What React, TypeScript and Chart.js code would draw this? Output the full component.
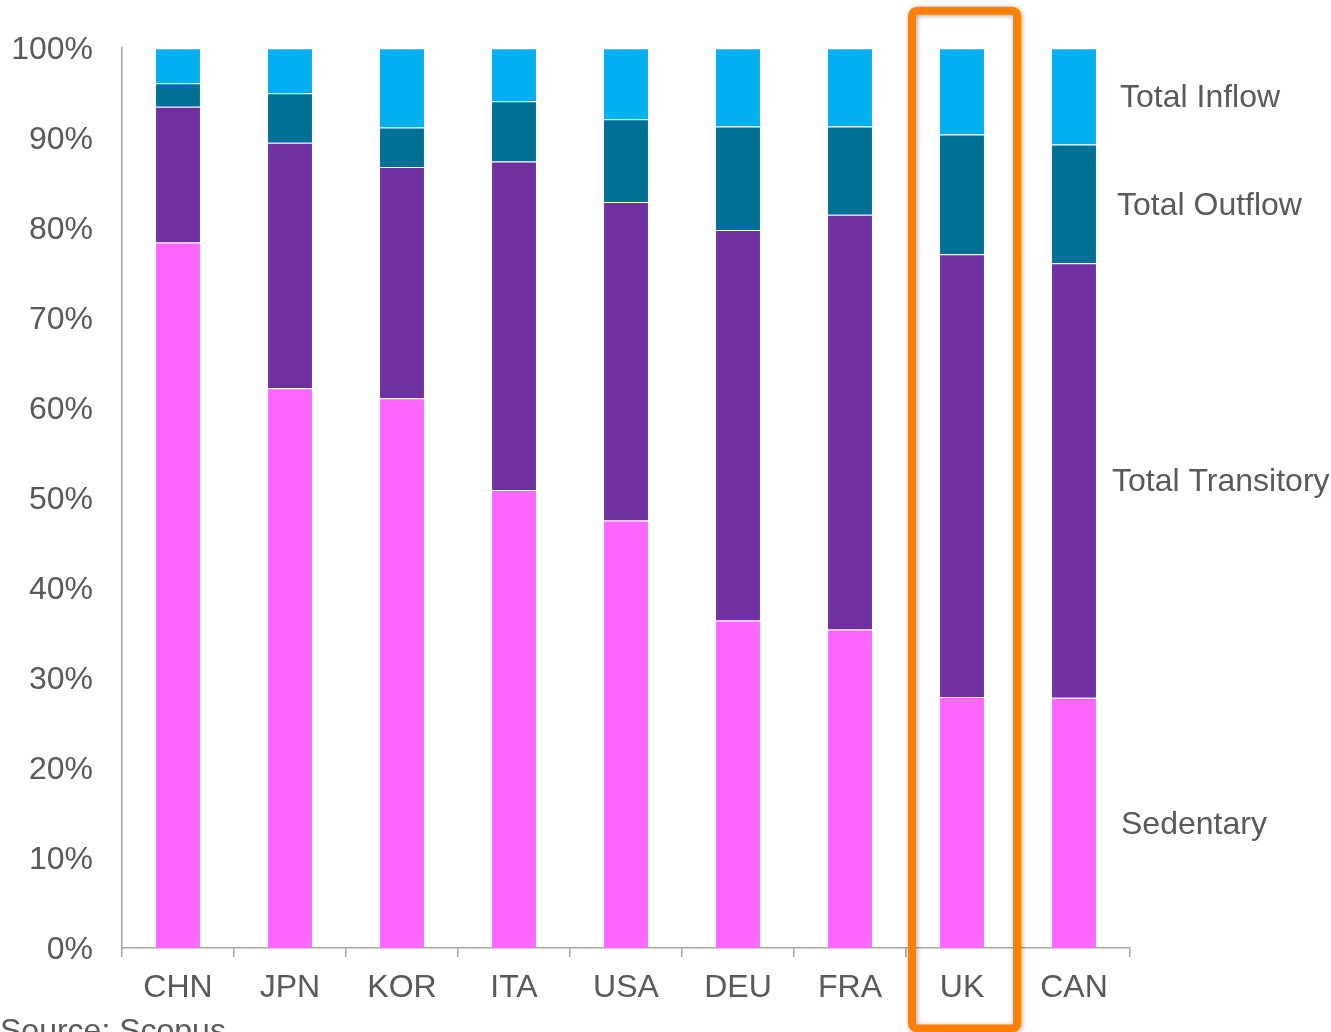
import React, { useEffect, useRef } from "react";
import { Chart, registerables } from "chart.js";

Chart.register(...registerables);

// Countries along the x axis
const countries = ["CHN", "JPN", "KOR", "ITA", "USA", "DEU", "FRA", "UK", "CAN"];

// Share of researchers by mobility class (percent of each country's total)
const sedentary = [78.4, 62.2, 61.1, 50.9, 47.5, 36.4, 35.4, 27.9, 27.8];
const totalTransitory = [15.1, 27.3, 25.7, 36.5, 35.4, 43.4, 46.1, 49.2, 48.3];
const totalOutflow = [2.6, 5.5, 4.4, 6.7, 9.2, 11.5, 9.8, 13.3, 13.2];
const totalInflow = [3.9, 5.0, 8.8, 5.9, 7.9, 8.7, 8.7, 9.6, 10.7];

const seriesNames = ["Sedentary", "Total Transitory", "Total Outflow", "Total Inflow"];
const yTicks = [0, 10, 20, 30, 40, 50, 60, 70, 80, 90, 100];

const highlighted = "UK";
const sourceNote = "Source: Scopus";

const FONT = "Arial, 'Liberation Sans', sans-serif";
const TEXT = "#595959";
const AXIS = "#a6a6a6";
const SIZE = 32;

// Series labels beside the last bar, the highlight frame and the source line
const annotations = {
  id: "annotations",
  afterDraw(chart: any) {
    const { ctx, chartArea, scales } = chart;
    ctx.save();
    ctx.font = `${SIZE}px ${FONT}`;
    ctx.fillStyle = TEXT;
    ctx.textBaseline = "middle";
    ctx.textAlign = "left";
    const nudges = [-9, -18, -13, -10];
    chart.data.datasets.forEach((ds: any, i: number) => {
      const meta = chart.getDatasetMeta(i);
      const bar = meta.data[meta.data.length - 1];
      const mid = (bar.y + bar.base) / 2;
      ctx.fillText(ds.label, chartArea.right + nudges[i], mid + 2);
    });

    // frame around the highlighted country
    const cx = scales.x.getPixelForValue(countries.indexOf(highlighted));
    ctx.shadowColor = "rgba(0,0,0,0.35)";
    ctx.shadowBlur = 5;
    ctx.shadowOffsetX = 1;
    ctx.shadowOffsetY = 1;
    ctx.strokeStyle = "#ff8000";
    ctx.lineWidth = 8;
    ctx.beginPath();
    ctx.roundRect(cx - 50, chartArea.top - 37.5, 105, chart.height - chartArea.top + 34, 5);
    ctx.stroke();
    ctx.shadowColor = "transparent";

    ctx.textBaseline = "alphabetic";
    ctx.fillStyle = TEXT;
    ctx.fillText(sourceNote, 0, chart.height + 9);
    ctx.restore();
  },
};

export default function App() {
  const canvasRef = useRef<HTMLCanvasElement | null>(null);

  useEffect(() => {
    if (!canvasRef.current) return;
    const colors = ["#ff66ff", "#7030a0", "#007096", "#00b0f0"];
    const values = [sedentary, totalTransitory, totalOutflow, totalInflow];
    const chart = new Chart(canvasRef.current, {
      type: "bar",
      data: {
        labels: countries,
        datasets: values.map((v, i) => ({
          label: seriesNames[i],
          data: v,
          backgroundColor: colors[i],
          borderColor: "rgba(255,255,255,0.35)",
          borderWidth: 1,
          categoryPercentage: 1,
          barPercentage: 0.41,
        })),
      },
      options: {
        animation: false,
        responsive: false,
        layout: { padding: { top: 47, right: 201, left: 0, bottom: 0 } },
        plugins: { legend: { display: false }, tooltip: { enabled: false } },
        scales: {
          x: {
            stacked: true,
            grid: {
              display: true,
              drawOnChartArea: false,
              drawTicks: true,
              tickLength: 9,
              color: AXIS,
              lineWidth: 1.5,
            },
            border: { display: true, color: AXIS, width: 1.5 },
            ticks: {
              color: TEXT,
              font: { family: FONT, size: SIZE },
              padding: 12,
              maxRotation: 0,
            },
            afterFit(scale: any) {
              scale.height = 84;
            },
          },
          y: {
            stacked: true,
            min: 0,
            max: 100,
            afterBuildTicks(scale: any) {
              scale.ticks = yTicks.map((v) => ({ value: v }));
            },
            grid: { display: false, drawTicks: false },
            border: { display: true, color: AXIS, width: 1.5 },
            ticks: {
              color: TEXT,
              font: { family: FONT, size: SIZE },
              padding: 29,
              labelOffset: 2,
              callback: (v: any) => `${v}%`,
            },
            afterFit(scale: any) {
              scale.width = 122;
            },
          },
        },
      },
      plugins: [annotations],
    });
    return () => chart.destroy();
  }, []);

  return (
    <div style={{ position: "absolute", left: 0, top: 0, width: 1331, height: 1032, background: "#fff" }}>
      <canvas ref={canvasRef} width={1331} height={1032} />
    </div>
  );
}
